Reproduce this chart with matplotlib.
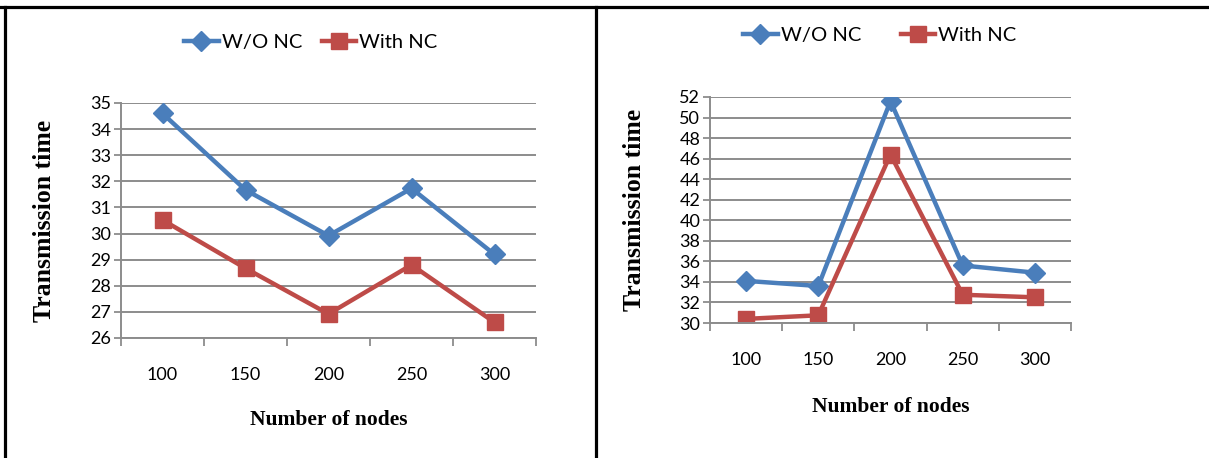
import matplotlib
matplotlib.use("Agg")
import matplotlib.pyplot as plt
from matplotlib.lines import Line2D

# data
nodes = ["100", "150", "200", "250", "300"]
left_wo_nc = [34.6, 31.67, 29.92, 31.73, 29.2]
left_with_nc = [30.52, 28.67, 26.92, 28.8, 26.6]
right_wo_nc = [34.1, 33.6, 51.6, 35.6, 34.9]
right_with_nc = [30.4, 30.75, 46.4, 32.75, 32.5]
left_yticks = list(range(26, 36))
right_yticks = list(range(30, 53, 2))

BLUE = "#4A7EBB"
RED = "#BE4B48"
GRID = "#8C8C8C"
tick_font = ["Lato", "DejaVu Sans"]
label_font = ["Liberation Serif", "DejaVu Serif"]

W, H = 1209, 458
fig = plt.figure(figsize=(W / 100, H / 100), dpi=100)


def px_axes(x0, x1, y0, y1):
    # pixel box -> figure fraction
    return fig.add_axes([x0 / W, 1 - y1 / H, (x1 - x0) / W, (y1 - y0) / H])


def draw_panel(ax, wo, wi, yticks, xpad, leg_anchor, colsp, xlab_y, ylab_x):
    x = list(range(len(nodes)))
    ax.plot(x, wo, color=BLUE, lw=3.2, marker="D", ms=10, label="W/O NC",
            solid_joinstyle="miter")
    ax.plot(x, wi, color=RED, lw=3.2, marker="s", ms=11, label="With NC",
            solid_joinstyle="miter")
    ax.set_xlim(-0.5, len(nodes) - 0.5)
    ax.set_ylim(yticks[0], yticks[-1])
    ax.set_yticks(yticks)
    ax.set_yticklabels([str(v) for v in yticks], family=tick_font, fontsize=13)
    ax.set_xticks(x)
    ax.set_xticklabels(nodes, family=tick_font, fontsize=13)
    ax.set_xticks([i - 0.5 for i in range(len(nodes) + 1)], minor=True)
    ax.tick_params(axis="x", which="major", length=0, pad=xpad)
    ax.tick_params(axis="x", which="minor", length=6, width=1.3, color=GRID)
    ax.tick_params(axis="y", length=5, width=1.3, color=GRID, pad=2)
    ax.grid(axis="y", color=GRID, lw=1.4)
    ax.set_axisbelow(True)
    for s in ["top", "right"]:
        ax.spines[s].set_visible(False)
    for s in ["left", "bottom"]:
        ax.spines[s].set_color(GRID)
        ax.spines[s].set_linewidth(1.4)
    leg = ax.legend(loc="center", bbox_to_anchor=leg_anchor,
                    bbox_transform=fig.transFigure, ncol=2, frameon=False,
                    prop={"family": tick_font, "size": 14.5},
                    handlelength=1.7, handletextpad=0.15, columnspacing=colsp)
    ax.text(0.5, xlab_y, "Number of nodes", transform=ax.transAxes,
            ha="center", va="center", family=label_font,
            fontweight="bold", fontsize=15.5)
    ax.text(ylab_x, 0.5, "Transmission time", transform=ax.transAxes,
            ha="center", va="center", rotation=90, family=label_font,
            fontweight="bold", fontsize=18.5)
    return leg


ax1 = px_axes(121, 536, 103, 338)
draw_panel(ax1, left_wo_nc, left_with_nc, left_yticks, 21,
           (311 / W, 1 - 42 / H), 1.0, -0.35, -0.185)

ax2 = px_axes(710, 1071, 97, 323)
draw_panel(ax2, right_wo_nc, right_with_nc, right_yticks, 21,
           (880 / W, 1 - 35 / H), 2.0, -0.37, -0.21)

# table borders
fig.add_artist(Line2D([0, 1], [1 - 7.3 / H] * 2, color="black", lw=2.3))
fig.add_artist(Line2D([4.7 / W] * 2, [0, 1 - 7.3 / H], color="black", lw=2.3))
fig.add_artist(Line2D([595.7 / W] * 2, [0, 1 - 7.3 / H], color="black", lw=2.3))

fig.savefig("out.png", dpi=100)
